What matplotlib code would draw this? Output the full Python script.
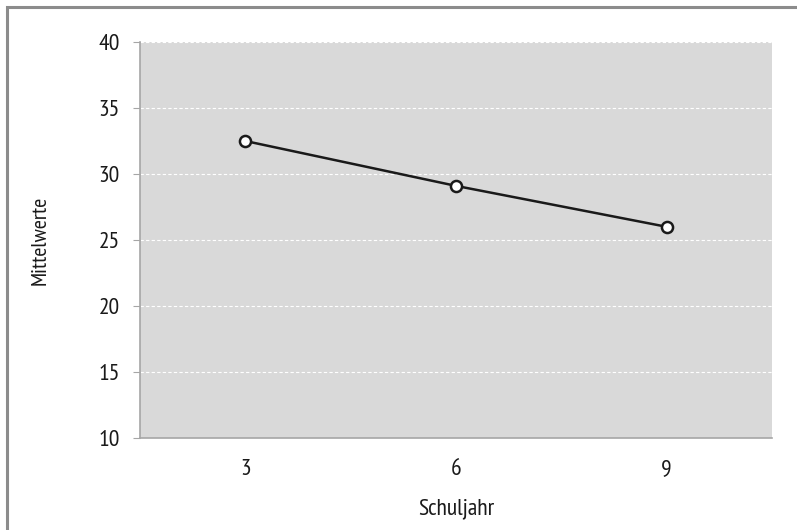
import matplotlib
matplotlib.use("Agg")
import matplotlib.pyplot as plt
from matplotlib.patches import Rectangle
from matplotlib import font_manager

available = {f.name for f in font_manager.fontManager.ttflist}
candidates = ["PT Sans Narrow", "Open Sans Condensed", "Fira Sans Condensed",
              "Roboto Condensed", "Archivo Narrow", "Asap Condensed", "Barlow Semi Condensed"]
font = next((c for c in candidates if c in available), "DejaVu Sans")
plt.rcParams['font.family'] = [font, 'DejaVu Sans']

categories = ["3", "6", "9"]
values = [32.5, 29.1, 26.0]
yticks = [10, 15, 20, 25, 30, 35, 40]

W, H = 797, 530
fig = plt.figure(figsize=(W/100, H/100), dpi=100)
ax = fig.add_axes([140/W, 1-438/H, (772-140)/W, (438-42)/H])
ax.set_facecolor("#d9d9d9")

x = list(range(len(categories)))
ax.plot(x, values, color="#1a1a1a", lw=1.8, marker="o", ms=8,
        mfc="white", mec="#1a1a1a", mew=1.8, zorder=3)

ax.set_xlim(-0.5, len(categories)-0.5)
ax.set_ylim(10, 40)
ax.set_xticks(x)
ax.set_xticklabels(categories)
ax.set_yticks(yticks)
ax.set_yticklabels([str(v) for v in yticks])

for v in yticks[1:]:
    ax.axhline(v, color="white", lw=0.8, ls=(0, (3, 2)), zorder=1)

for s in ["top", "right"]:
    ax.spines[s].set_visible(False)
for s in ["left", "bottom"]:
    ax.spines[s].set_color("#a6a6a6")
    ax.spines[s].set_linewidth(1.2)

ax.tick_params(axis="y", length=5, color="#a6a6a6", labelsize=17, pad=9.5, labelcolor="#1a1a1a")
ax.tick_params(axis="x", length=0, labelsize=17, pad=15, labelcolor="#1a1a1a")

ax.set_xlabel("Schuljahr", fontsize=17, color="#1a1a1a")
ax.set_ylabel("Mittelwerte", fontsize=16, color="#1a1a1a")
ax.xaxis.set_label_coords(0.5, -(509-438)/396, transform=ax.transAxes)
ax.yaxis.set_label_coords(-(140-40)/632, 0.5, transform=ax.transAxes)
ax.xaxis.label.set_va("center")
ax.yaxis.label.set_va("center")

fig.patches.append(Rectangle((7/W, -0.1), 1.2, 1-7/H+0.1, transform=fig.transFigure,
                             fill=False, edgecolor="#8c8c8c", lw=2.2))

fig.savefig("out.png", dpi=100)
